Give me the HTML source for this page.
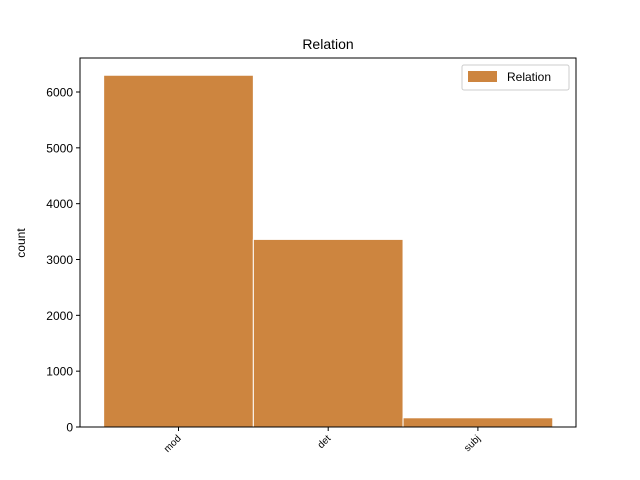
<!DOCTYPE html>
<html><head><meta charset="utf-8"><style>body{margin:0;background:#fff}svg{display:block;font-family:"Liberation Sans","DejaVu Sans",sans-serif}</style></head>
<body>
<svg id="chart" width="640" height="480" xmlns="http://www.w3.org/2000/svg">
<rect width="640" height="480" fill="#fff"/>
<text x="328" y="49" text-anchor="middle" font-size="14">Relation</text>
<text x="25" y="243" text-anchor="middle" font-size="12" transform="rotate(-90 25 243)">count</text>
<g id="bars"></g>
<g id="yticks"></g>
<g id="xticks"></g>
<rect x="80" y="58" width="496" height="369" fill="none" stroke="#000" stroke-width="1"/>
<g>
<rect x="462" y="65" width="107" height="25" fill="#fff" stroke="#ccc" rx="2"/>
<rect x="468" y="71" width="29" height="11" fill="#cd853f"/>
<text x="507" y="81" font-size="12">Relation</text>
</g>
</svg>
<script>
const categories=["mod","det","subj"];
const counts=[6300,3360,165];
const yTicks=[0,1000,2000,3000,4000,5000,6000];
const ns="http://www.w3.org/2000/svg";
const x0=80,x1=576,y0=427,y1=58;
const xv=v=>178.5+v*149.7;
const yv=v=>y0-v*(335/6000);
const bars=document.getElementById('bars'),yt=document.getElementById('yticks'),xt=document.getElementById('xticks');
function mk(t,a){const e=document.createElementNS(ns,t);for(const k in a)e.setAttribute(k,a[k]);return e;}
categories.forEach((c,i)=>{
const r=mk('rect',{x:xv(i-0.5),y:yv(counts[i]),width:xv(i+0.5)-xv(i-0.5),height:y0-yv(counts[i]),fill:'#cd853f',stroke:'#fff','stroke-width':1});


bars.appendChild(r);
const px=xv(i);
const tk=mk('line',{x1:px,x2:px,y1:y0,y2:y0+4,stroke:'#000'});


xt.appendChild(tk);
const tx=mk('text',{x:px+3,y:y0+12,'text-anchor':'end','font-size':'10',transform:`rotate(-45 ${px+3} ${y0+12})`});


tx.textContent=c;xt.appendChild(tx);
});
yTicks.forEach(v=>{
const py=yv(v);
const l=mk('line',{x1:x0-4,x2:x0,y1:py,y2:py,stroke:'#000'});


yt.appendChild(l);
const t=mk('text',{x:x0-7,y:py+4.5,'text-anchor':'end','font-size':'12'});


t.textContent=v;yt.appendChild(t);
});
</script>
</body></html>
